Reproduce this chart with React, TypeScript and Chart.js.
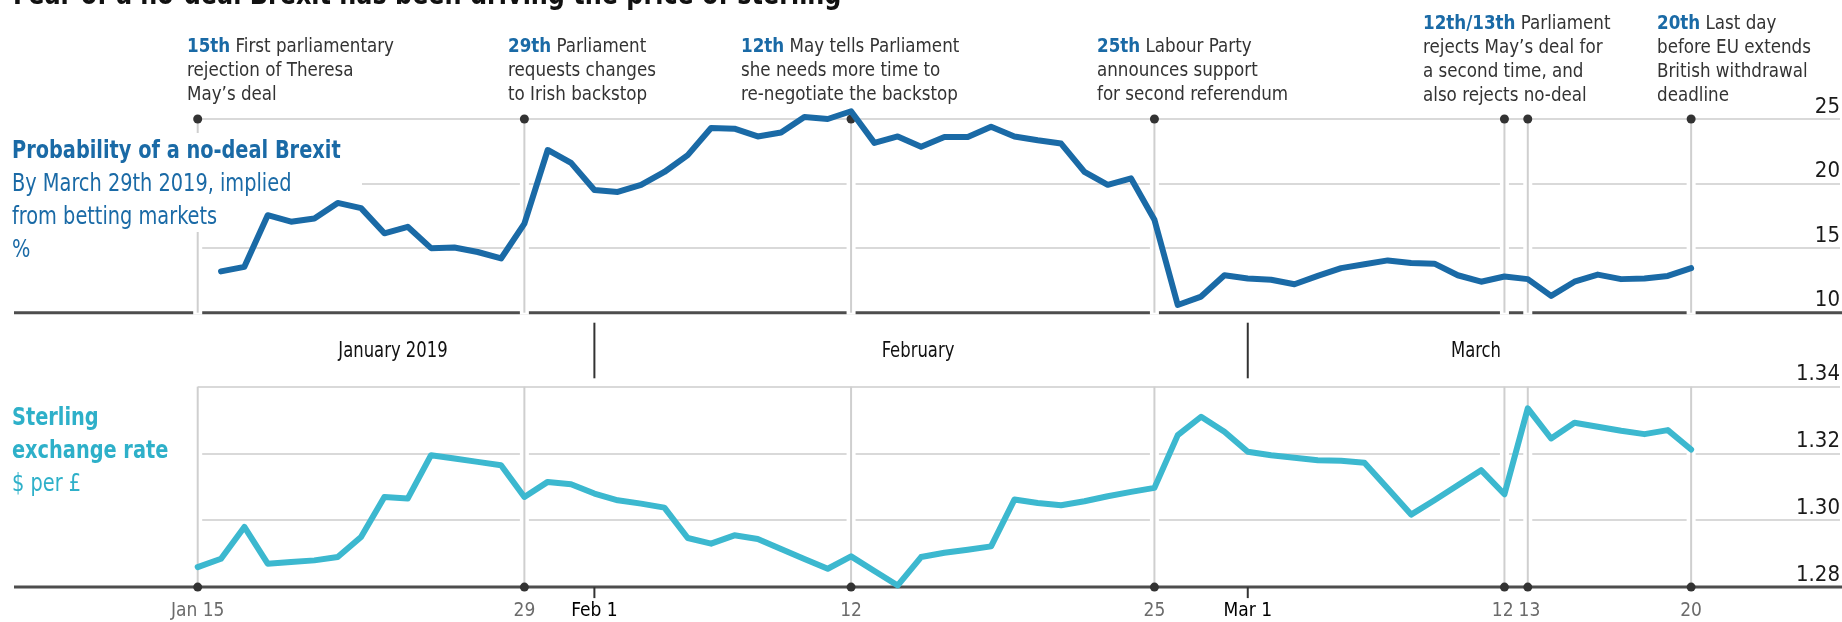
import React, { useEffect, useRef } from "react";
import { Chart, registerables } from "chart.js";

Chart.register(...registerables);

const FONT = '"DejaVu Sans Condensed", "Liberation Sans Narrow", Roboto, sans-serif';
const BLUE = "#1a6aa6";
const CYAN = "#3cb8cf";
const CYAN_TEXT = "#2eb0c9";
const GRID = "#d9d9d9";
const BASE = "#4d4d4d";
const EVENT_LINE = "#cfcfcf";
const DOT = "#333333";

// ---- data (dates as MM-DD, 2019) ----
const probDates = [
  "01-16", "01-17", "01-18", "01-19", "01-20", "01-21", "01-22", "01-23", "01-24", "01-25", "01-26", "01-27", "01-28", "01-29", "01-30", "01-31",
  "02-01", "02-02", "02-03", "02-04", "02-05", "02-06", "02-07", "02-08", "02-09", "02-10", "02-11", "02-12", "02-13", "02-14", "02-15", "02-16",
  "02-17", "02-18", "02-19", "02-20", "02-21", "02-22", "02-23", "02-24", "02-25", "02-26", "02-27", "02-28",
  "03-01", "03-02", "03-03", "03-04", "03-05", "03-06", "03-07", "03-08", "03-09", "03-10", "03-11", "03-12", "03-13", "03-14", "03-15", "03-16",
  "03-17", "03-18", "03-19", "03-20",
];
const probValues = [
  13.2, 13.55, 17.55, 17.05, 17.3, 18.5, 18.1, 16.15, 16.65, 15.0, 15.05, 14.7, 14.2, 16.9, 22.6, 21.6,
  19.5, 19.35, 19.9, 20.9, 22.2, 24.3, 24.25, 23.65, 23.95, 25.15, 25.0, 25.6, 23.15, 23.65, 22.85, 23.6,
  23.6, 24.4, 23.65, 23.35, 23.1, 20.9, 19.9, 20.4, 17.2, 10.6, 11.25, 12.9,
  12.65, 12.55, 12.2, 12.85, 13.45, 13.75, 14.05, 13.85, 13.8, 12.9, 12.4, 12.8, 12.6, 11.3, 12.4, 12.95,
  12.6, 12.65, 12.85, 13.45,
];

const sterlingDates = [
  "01-15", "01-16", "01-17", "01-18", "01-19", "01-20", "01-21", "01-22", "01-23", "01-24", "01-25", "01-26", "01-27", "01-28", "01-29", "01-30", "01-31",
  "02-01", "02-02", "02-03", "02-04", "02-05", "02-06", "02-07", "02-08", "02-09", "02-10", "02-11", "02-12", "02-13", "02-14", "02-15", "02-16",
  "02-17", "02-18", "02-19", "02-20", "02-21", "02-22", "02-23", "02-24", "02-25", "02-26", "02-27", "02-28",
  "03-01", "03-02", "03-03", "03-04", "03-05", "03-06", "03-07", "03-08", "03-09", "03-10", "03-11", "03-12", "03-13", "03-14", "03-15", "03-16",
  "03-17", "03-18", "03-19", "03-20",
];
const sterlingValues = [
  1.286, 1.2885, 1.298, 1.287, 1.2875, 1.288, 1.289, 1.295, 1.307, 1.3065, 1.3195, 1.3185, 1.3175, 1.3165, 1.307, 1.3115, 1.3108,
  1.308, 1.306, 1.305, 1.3038, 1.2947, 1.293, 1.2955, 1.2944, 1.2914, 1.2884, 1.2855, 1.2892, 1.2848, 1.2805, 1.289, 1.2903,
  1.2912, 1.2922, 1.3062, 1.3052, 1.3045, 1.3057, 1.3072, 1.3085, 1.3097, 1.3255, 1.331, 1.3265,
  1.3205, 1.3195, 1.3187, 1.318, 1.3178, 1.3172, 1.3095, 1.3017, 1.306, 1.3105, 1.315, 1.3078, 1.3335, 1.3245, 1.3292, 1.328,
  1.3268, 1.3258, 1.327, 1.3212,
];

const eventDates = ["01-15", "01-29", "02-12", "02-25", "03-12", "03-13", "03-20"];
const monthStartDates = ["02-01", "03-01"];
const monthLabels = ["January 2019", "February", "March"];

const xTickDates = ["01-15", "01-29", "02-01", "02-12", "02-25", "03-01", "03-12", "03-13", "03-20"];
const xTickLabels = ["Jan 15", "29", "Feb 1", "12", "25", "Mar 1", "12\u2009", "\u200913", "20"];
const xTickStrong = [false, false, true, false, false, true, false, false, false];

const probTicks = [10, 15, 20, 25];
const probTickLabels = ["10", "15", "20", "25"];
const sterlingTicks = [1.28, 1.3, 1.32, 1.34];
const sterlingTickLabels = ["1.28", "1.30", "1.32", "1.34"];

const X_MAX_DAYS = 70.38;

function dayIndex(md: string): number {
  const [m, d] = md.split("-").map(Number);
  return (Date.UTC(2019, m - 1, d) - Date.UTC(2019, 0, 15)) / 86400000;
}

Chart.defaults.font.family = FONT;

function eventPlugin(kind: "top" | "bottom") {
  return {
    id: "events_" + kind,
    beforeDatasetsDraw(chart: any) {
      const ctx = chart.ctx;
      const xs = chart.scales.x;
      const ys = chart.scales.y;
      const yTop = ys.getPixelForValue(ys.max);
      const yBot = ys.getPixelForValue(ys.min);
      ctx.save();
      ctx.strokeStyle = BASE;
      ctx.lineWidth = 3;
      ctx.beginPath();
      ctx.moveTo(14, yBot);
      ctx.lineTo(chart.width, yBot);
      ctx.stroke();

      const xsPix = eventDates.map((d) => xs.getPixelForValue(dayIndex(d)));
      ctx.strokeStyle = "#ffffff";
      ctx.lineWidth = 9;
      xsPix.forEach((x: number) => {
        ctx.beginPath();
        if (kind === "top") {
          ctx.moveTo(x, yTop + 3);
          ctx.lineTo(x, yBot + 2);
        } else {
          ctx.moveTo(x, yTop + 2);
          ctx.lineTo(x, yBot - 2);
        }
        ctx.stroke();
      });
      ctx.strokeStyle = EVENT_LINE;
      ctx.lineWidth = 2;
      xsPix.forEach((x: number) => {
        ctx.beginPath();
        ctx.moveTo(x, yTop);
        ctx.lineTo(x, yBot);
        ctx.stroke();
      });
      ctx.fillStyle = DOT;
      xsPix.forEach((x: number) => {
        ctx.beginPath();
        ctx.arc(x, kind === "top" ? yTop : yBot, 4.5, 0, Math.PI * 2);
        ctx.fill();
      });

      if (kind === "bottom") {
        ctx.strokeStyle = "#333333";
        ctx.lineWidth = 2;
        monthStartDates.forEach((d) => {
          const x = xs.getPixelForValue(dayIndex(d));
          ctx.beginPath();
          ctx.moveTo(x, yBot);
          ctx.lineTo(x, yBot + 11);
          ctx.stroke();
          ctx.beginPath();
          ctx.moveTo(x, 22.7);
          ctx.lineTo(x, 78.3);
          ctx.stroke();
        });
      }
      ctx.restore();
    },
  };
}

function yAxis(min: number, max: number, ticks: number[], labels: string[]) {
  return {
    position: "right" as const,
    min,
    max,
    afterBuildTicks: (axis: any) => {
      axis.ticks = ticks.map((v) => ({ value: v }));
    },
    ticks: {
      mirror: true,
      padding: 0,
      labelOffset: -12,
      color: "#1a1a1a",
      font: { family: FONT, size: 22 },
      callback: (_v: any, i: number) => labels[i],
    },
    grid: { color: GRID, lineWidth: 2, drawTicks: false },
    border: { display: false },
  };
}

export default function App() {
  const topRef = useRef<HTMLCanvasElement>(null);
  const botRef = useRef<HTMLCanvasElement>(null);

  useEffect(() => {
    const top = new Chart(topRef.current as HTMLCanvasElement, {
      type: "line",
      data: {
        datasets: [
          {
            data: probDates.map((d, i) => ({ x: dayIndex(d), y: probValues[i] })),
            borderColor: BLUE,
            borderWidth: 6,
            pointRadius: 0,
            tension: 0,
            borderJoinStyle: "round",
            borderCapStyle: "round",
            clip: false,
          } as any,
        ],
      },
      options: {
        responsive: false,
        animation: false,
        events: [],
        layout: { padding: { left: 197.7, right: 2, top: 119, bottom: 17.3 } },
        plugins: { legend: { display: false }, tooltip: { enabled: false } },
        scales: {
          x: { type: "linear", min: 0, max: X_MAX_DAYS, display: false },
          y: yAxis(10, 25, probTicks, probTickLabels) as any,
        },
      },
      plugins: [eventPlugin("top")],
    });

    const bot = new Chart(botRef.current as HTMLCanvasElement, {
      type: "line",
      data: {
        datasets: [
          {
            data: sterlingDates.map((d, i) => ({ x: dayIndex(d), y: sterlingValues[i] })),
            borderColor: CYAN,
            borderWidth: 6,
            pointRadius: 0,
            tension: 0,
            borderJoinStyle: "round",
            borderCapStyle: "round",
            clip: false,
          } as any,
        ],
      },
      options: {
        responsive: false,
        animation: false,
        events: [],
        layout: { padding: { left: 197.7, right: 2, top: 86.7, bottom: 4.1 } },
        plugins: { legend: { display: false }, tooltip: { enabled: false } },
        scales: {
          x: {
            type: "linear",
            min: 0,
            max: X_MAX_DAYS,
            afterBuildTicks: (axis: any) => {
              axis.ticks = xTickDates.map((d) => ({ value: dayIndex(d) }));
            },
            ticks: {
              autoSkip: false,
              maxRotation: 0,
              padding: 13,
              font: { family: FONT, size: 19 },
              color: (c: any) => (xTickStrong[c.index] ? "#000000" : "#6b6b6b"),
              callback: (_v: any, i: number) => xTickLabels[i],
            },
            grid: { display: false, drawTicks: false },
            border: { display: false },
          } as any,
          y: yAxis(1.28, 1.34, sterlingTicks, sterlingTickLabels) as any,
        },
      },
      plugins: [eventPlugin("bottom")],
    });

    return () => {
      top.destroy();
      bot.destroy();
    };
  }, []);

  const annStyle: React.CSSProperties = {
    position: "absolute",
    fontSize: 20,
    lineHeight: "24px",
    color: "#333",
    whiteSpace: "nowrap",
    transform: "scaleX(0.93)",
    transformOrigin: "left top",
  };
  const b = (t: string) => <span style={{ color: BLUE, fontWeight: "bold" }}>{t}</span>;
  const wb: React.CSSProperties = { background: "#fff", display: "inline-block" };

  return (
    <div
      style={{
        position: "fixed",
        left: 0,
        top: 0,
        width: 1842,
        height: 622,
        overflow: "hidden",
        background: "#fff",
        fontFamily: FONT,
      }}
    >
      <canvas ref={topRef} width={1842} height={330} style={{ position: "absolute", left: 0, top: 0, width: 1842, height: 330 }} />
      <canvas ref={botRef} width={1842} height={340} style={{ position: "absolute", left: 0, top: 300, width: 1842, height: 340 }} />

      <div
        style={{
          position: "absolute",
          left: 13,
          top: -21,
          fontSize: 30,
          lineHeight: "30px",
          fontWeight: "bold",
          color: "#111",
          whiteSpace: "nowrap",
          transform: "scaleX(0.886)",
          transformOrigin: "left top",
        }}
      >
        Fear of a no-deal Brexit has been driving the price of sterling
      </div>

      <div style={{ ...annStyle, left: 187, top: 33 }}>
        {b("15th")} First parliamentary<br />rejection of Theresa<br />May’s deal
      </div>
      <div style={{ ...annStyle, left: 508, top: 33 }}>
        {b("29th")} Parliament<br />requests changes<br />to Irish backstop
      </div>
      <div style={{ ...annStyle, left: 741, top: 33 }}>
        {b("12th")} May tells Parliament<br />she needs more time to<br />re-negotiate the backstop
      </div>
      <div style={{ ...annStyle, left: 1097, top: 33 }}>
        {b("25th")} Labour Party<br />announces support<br />for second referendum
      </div>
      <div style={{ ...annStyle, left: 1423, top: 10 }}>
        {b("12th/13th")} Parliament<br />rejects May’s deal for<br />a second time, and<br />also rejects no-deal
      </div>
      <div style={{ ...annStyle, left: 1657, top: 10 }}>
        {b("20th")} Last day<br />before EU extends<br />British withdrawal<br />deadline
      </div>

      <div
        style={{
          position: "absolute",
          left: 12,
          top: 133,
          fontSize: 25,
          lineHeight: "33px",
          color: BLUE,
          whiteSpace: "nowrap",
          transform: "scaleX(0.86)",
          transformOrigin: "left top",
        }}
      >
        <div><span style={{ ...wb, fontWeight: "bold", paddingRight: 4 }}>Probability of a no-deal Brexit</span></div>
        <div><span style={{ ...wb, width: 407 }}>By March 29th 2019, implied</span></div>
        <div><span style={{ ...wb, paddingRight: 4 }}>from betting markets</span></div>
        <div>%</div>
      </div>

      <div
        style={{
          position: "absolute",
          left: 12,
          top: 400,
          fontSize: 25,
          lineHeight: "33px",
          color: CYAN_TEXT,
          whiteSpace: "nowrap",
          transform: "scaleX(0.86)",
          transformOrigin: "left top",
        }}
      >
        <div style={{ fontWeight: "bold" }}>Sterling</div>
        <div style={{ fontWeight: "bold" }}>exchange rate</div>
        <div>$ per £</div>
      </div>

      {[
        { t: monthLabels[0], x: 392.6 },
        { t: monthLabels[1], x: 917.5 },
        { t: monthLabels[2], x: 1475.8 },
      ].map((m) => (
        <div
          key={m.t}
          style={{
            position: "absolute",
            left: m.x,
            top: 338,
            transform: "scaleX(0.87) translateX(-50%)",
            transformOrigin: "left top",
            fontSize: 21,
            lineHeight: "24px",
            color: "#111",
            whiteSpace: "nowrap",
          }}
        >
          {m.t}
        </div>
      ))}
    </div>
  );
}
